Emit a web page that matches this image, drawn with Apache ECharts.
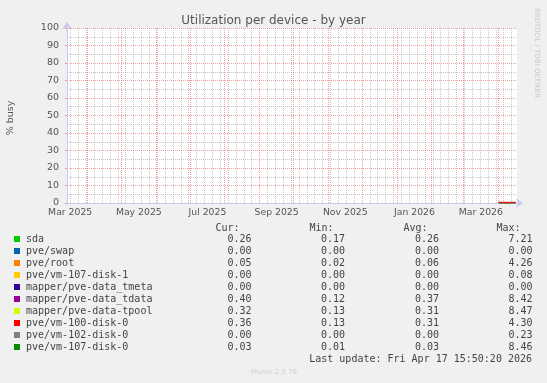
<!DOCTYPE html>
<html>
<head>
<meta charset="utf-8">
<script src="https://cdn.jsdelivr.net/npm/echarts@6/dist/echarts.min.js"></script>
<style>
html,body{margin:0;padding:0;background:#f0f0f0;}
#chart{width:547px;height:383px;}
</style>
</head>
<body>
<div id="chart"></div>
<script>
// ---- data ----
const seriesNames = ['sda','pve/swap','pve/root','pve/vm-107-disk-1','mapper/pve-data_tmeta','mapper/pve-data_tdata','mapper/pve-data-tpool','pve/vm-100-disk-0','pve/vm-102-disk-0','pve/vm-107-disk-0'];
const seriesColors = ['#00cc00','#0066b3','#ff8000','#ffcc00','#330099','#990099','#ccff00','#ff0000','#808080','#008f00'];
const dates = ['2026-04-01','2026-04-02','2026-04-03','2026-04-04','2026-04-05','2026-04-06','2026-04-07','2026-04-08','2026-04-09','2026-04-10','2026-04-11','2026-04-12','2026-04-13','2026-04-14','2026-04-15','2026-04-16'];
const sda        = [0.31,0.27,0.25,0.24,0.28,0.26,0.23,0.25,0.27,0.26,0.24,0.29,0.25,0.26,0.27,0.26];
const pveSwap    = [0,0,0,0,0,0,0,0,0,0,0,0,0,0,0,0];
const pveRoot    = [0.07,0.06,0.05,0.06,0.07,0.06,0.05,0.06,0.06,0.07,0.05,0.06,0.06,0.05,0.06,0.05];
const vm107disk1 = [0.01,0,0,0,0,0,0,0,0,0,0,0,0,0,0,0];
const tmeta      = [0,0,0,0,0,0,0,0,0,0,0,0,0,0,0,0];
const tdata      = [0.52,0.38,0.36,0.35,0.39,0.37,0.34,0.36,0.38,0.37,0.35,0.40,0.36,0.37,0.38,0.40];
const tpool      = [0.41,0.32,0.30,0.29,0.33,0.31,0.28,0.30,0.32,0.31,0.29,0.34,0.30,0.31,0.32,0.32];
const vm100disk0 = [0.35,0.31,0.30,0.29,0.33,0.31,0.28,0.30,0.32,0.31,0.29,0.33,0.30,0.31,0.32,0.36];
const vm102disk0 = [0.01,0,0,0,0,0,0,0,0,0,0,0,0,0,0,0];
const vm107disk0 = [0.04,0.03,0.03,0.02,0.03,0.03,0.03,0.03,0.03,0.04,0.03,0.03,0.03,0.03,0.03,0.03];
const seriesValues = [sda,pveSwap,pveRoot,vm107disk1,tmeta,tdata,tpool,vm100disk0,vm102disk0,vm107disk0];

const curVals = ['0.26','0.00','0.05','0.00','0.00','0.40','0.32','0.36','0.00','0.03'];
const minVals = ['0.17','0.00','0.02','0.00','0.00','0.12','0.13','0.13','0.00','0.01'];
const avgVals = ['0.26','0.00','0.06','0.00','0.00','0.37','0.31','0.31','0.00','0.03'];
const maxVals = ['7.21','0.00','4.26','0.08','0.00','8.42','8.47','4.30','0.23','8.46'];

const xLabelMonths = [[2025,2],[2025,4],[2025,6],[2025,8],[2025,10],[2026,0],[2026,2]];
const xLabelTexts = ['Mar 2025','May 2025','Jul 2025','Sep 2025','Nov 2025','Jan 2026','Mar 2026'];
const yMin = 0, yMax = 100, yInterval = 10;

const titleText = 'Utilization per device - by year';
const yAxisTitle = '% busy';
const lastUpdate = 'Last update: Fri Apr 17 15:50:20 2026';

// ---- build ----
const tEnd = new Date(2026,3,17,15,50,20).getTime();
const tStart = tEnd - 400*86400*1000;
const plotLeft = 67, plotWidth = 450;

function parseDay(s){const p=s.split('-');return new Date(+p[0],+p[1]-1,+p[2],12,0,0).getTime();}
// snap grid-line times onto pixel centres so the dotted lines stay crisp
function snap(t){const px=plotLeft+(t-tStart)/(tEnd-tStart)*plotWidth; const sp=Math.floor(px)+0.5; return tStart+(sp-plotLeft)/plotWidth*(tEnd-tStart);}

const monthStarts = [];
for (let y=2025, m=3; !(y===2026 && m>3); ){ monthStarts.push(new Date(y,m,1).getTime()); m++; if(m>11){m=0;y++;} }
const weekLines = [];
{ let d = new Date(2025,2,17); while (d.getTime() < tEnd){ weekLines.push(d.getTime()); d = new Date(d.getFullYear(), d.getMonth(), d.getDate()+7); } }

const labelPos = xLabelMonths.map(([y,m]) => Math.round((new Date(y,m,1).getTime() + new Date(y,m+1,1).getTime())/2));

const series = seriesNames.map((n,i)=>({
  name:n, type:'line', showSymbol:false, symbol:'none', animation:false,
  itemStyle:{color:seriesColors[i]},
  lineStyle:{width:1,color:seriesColors[i]},
  data: dates.map((d,k)=>[parseDay(d), seriesValues[i][k]]),
  z: n==='pve/vm-100-disk-0' ? 7 : 5
}));

series.push({
  name:'__grid', type:'line', data:[], silent:true, animation:false, z:1,
  markLine:{ silent:true, symbol:['none','none'], animation:false, label:{show:false},
    data: weekLines.filter(t=>monthStarts.indexOf(t)<0).map(t=>({xAxis:snap(t), lineStyle:{color:'rgba(120,120,120,0.4)', type:[1,1], width:1}}))
      .concat(monthStarts.map(t=>({xAxis:snap(t), lineStyle:{color:'rgba(225,80,80,0.55)', type:[1,1], width:1}})))
  }
});

const headerY = 228, rowY0 = 239.5, rowStep = 12;
const monoFont = '"DejaVu Sans Mono", monospace';
const graphics = [
  {type:'text', x:11, y:118, rotation:Math.PI/2, style:{text:yAxisTitle, font:'9.5px "DejaVu Sans"', fill:'#555', textAlign:'center', textVerticalAlign:'middle'}},
  {type:'text', x:537, y:53, rotation:-Math.PI/2, style:{text:'RRDTOOL / TOBI OETIKER', font:'7px "DejaVu Sans"', fill:'#c8c8c8', textAlign:'center', textVerticalAlign:'middle'}},
  {type:'text', x:274, y:372, style:{text:'Munin 2.0.76', font:'7px "DejaVu Sans"', fill:'#cfcfcf', textAlign:'center', textVerticalAlign:'middle'}},
  {type:'text', x:532, y:359, style:{text:lastUpdate, font:'10px '+monoFont, fill:'#444', textAlign:'right', textVerticalAlign:'middle'}}
];
const headers = [['Cur:',239.5],['Min:',333.5],['Avg:',427.5],['Max:',520.5]];
headers.forEach(h=>graphics.push({type:'text', x:h[1], y:headerY, style:{text:h[0], font:'10px '+monoFont, fill:'#444', textAlign:'right', textVerticalAlign:'middle'}}));
const cols = [[curVals,251.5],[minVals,345],[avgVals,439],[maxVals,532.5]];
cols.forEach(c=>c[0].forEach((v,i)=>graphics.push({type:'text', x:c[1], y:rowY0+i*rowStep, style:{text:v, font:'10px '+monoFont, fill:'#444', textAlign:'right', textVerticalAlign:'middle'}})));

const chart = echarts.init(document.getElementById('chart'), null, {renderer:'canvas'});
chart.setOption({
  backgroundColor:'#f0f0f0',
  animation:false,
  title:{text:titleText, left:'center', top:10, textStyle:{fontFamily:'DejaVu Sans', fontSize:12, fontWeight:'normal', color:'#555'}},
  grid:{left:plotLeft, right:547-plotLeft-plotWidth, top:28, bottom:180, show:true, backgroundColor:'#ffffff', borderWidth:0},
  legend:{orient:'vertical', left:14, top:233, itemWidth:6, itemHeight:6, itemGap:0, icon:'rect', padding:0,
    data: seriesNames,
    textStyle:{fontFamily:'DejaVu Sans Mono', fontSize:10, color:'#444', lineHeight:12, padding:[0,0,0,1]}, selectedMode:false},
  xAxis:{type:'value', min:tStart, max:tEnd, scale:true,
    axisLine:{show:true, lineStyle:{color:'#c8c8f0', width:1}, symbol:['none','arrow'], symbolSize:[7,7], symbolOffset:[0,6]},
    axisTick:{show:false},
    splitLine:{show:false},
    axisLabel:{customValues:labelPos, fontFamily:'DejaVu Sans', fontSize:9.3, color:'#555', margin:5, showMinLabel:true, showMaxLabel:true,
      formatter:function(v){let best=0;for(let i=1;i<labelPos.length;i++){if(Math.abs(labelPos[i]-v)<Math.abs(labelPos[best]-v))best=i;} return xLabelTexts[best];}}
  },
  yAxis:{type:'value', min:yMin, max:yMax, interval:yInterval,
    axisLine:{show:true, lineStyle:{color:'#c8c8f0', width:1}, symbol:['none','arrow'], symbolSize:[7,7], symbolOffset:[0,6]},
    axisTick:{show:true, length:2, lineStyle:{color:'rgba(225,80,80,0.55)'}},
    splitLine:{show:true, lineStyle:{color:'rgba(225,80,80,0.55)', type:[1,1], width:1}},
    minorTick:{show:false, splitNumber:2},
    minorSplitLine:{show:true, lineStyle:{color:'rgba(120,120,120,0.4)', type:[1,1], width:1}},
    axisLabel:{fontFamily:'DejaVu Sans', fontSize:9.5, color:'#555', margin:8}
  },
  series: series,
  graphic: graphics
});
</script>
</body>
</html>
